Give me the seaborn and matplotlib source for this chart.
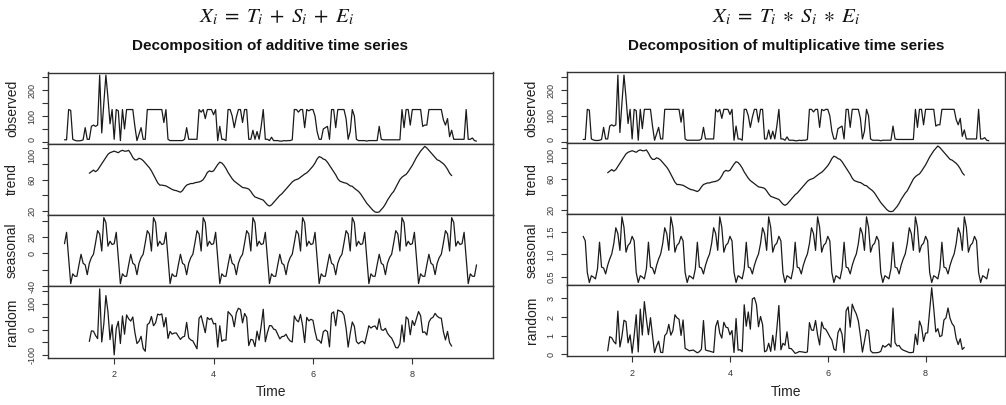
import numpy as np
import pandas as pd
import matplotlib
matplotlib.use("Agg")
import matplotlib.pyplot as plt
import seaborn as sns

# ---------------- data ----------------
FREQ = 24
START = 1.0

observed = [
    8, 8, 125, 122, 10, 6, 4, 4, 5, 8,
    55, 10, 10, 60, 65, 60, 65, 258, 35, 150,
    258, 170, 70, 125, 10, 125, 120, 5, 125, 50,
    125, 125, 125, 125, 60, 5, 30, 55, 10, 10,
    125, 125, 125, 125, 125, 125, 125, 125, 75, 125,
    10, 5, 5, 5, 5, 5, 5, 5, 10, 55,
    10, 10, 10, 10, 10, 125, 115, 125, 90, 125,
    125, 125, 105, 125, 5, 60, 10, 10, 5, 125,
    125, 100, 55, 95, 125, 125, 75, 125, 125, 10,
    10, 45, 10, 40, 10, 60, 125, 10, 10, 5,
    18, 5, 5, 5, 3, 3, 5, 4, 5, 5,
    8, 125, 125, 115, 125, 125, 55, 125, 120, 125,
    125, 100, 40, 10, 10, 50, 55, 60, 10, 125,
    125, 55, 125, 125, 125, 125, 90, 10, 40, 125,
    100, 10, 5, 5, 5, 5, 3, 5, 5, 5,
    5, 5, 60, 10, 8, 8, 8, 8, 8, 8,
    8, 8, 8, 125, 55, 125, 125, 65, 125, 125,
    125, 125, 125, 60, 65, 65, 125, 125, 125, 125,
    125, 125, 125, 85, 65, 90, 20, 45, 10, 10,
    10, 10, 10, 10, 125, 10, 10, 15, 5, 3,
]

TREND_START_INDEX = 12
trend_values = [
    68, 70, 72, 70, 72, 76, 80, 84, 88, 92,
    94, 95, 96, 95, 94, 96, 97, 96, 96, 97,
    93, 88, 85, 85, 87, 86, 84, 81, 78, 75,
    71, 66, 61, 56, 53, 53, 52.5, 52, 50.5, 49,
    47.5, 46.5, 46, 45, 44, 46, 50, 53, 54, 55,
    55, 56, 56.5, 57, 58, 60, 64, 69, 71, 70,
    71, 75, 79, 82, 81, 78, 74, 69, 65, 61,
    58, 56, 54, 52, 50, 49.5, 49, 48, 45, 41,
    38, 37, 36, 35, 34, 31, 28, 26.5, 28, 31,
    34, 37, 40, 42, 45, 48, 51, 54, 57, 59,
    60, 61, 63, 65, 67, 68.5, 71, 74, 77, 81,
    86, 89, 88, 86, 85, 82, 78, 74, 70, 66,
    61, 58, 57, 56, 55.5, 54, 52, 51.5, 49, 47,
    45, 42, 38, 34, 30, 27, 24, 21, 19, 18.5,
    19, 22, 25, 29, 34, 38, 42, 45, 50, 55,
    60, 63, 65, 66.5, 70, 74, 78, 83, 88, 92,
    96, 99, 102, 100, 97, 94, 91, 88, 85, 84,
    82, 80, 77, 73, 68, 65,
]

seasonal_additive_period = [
    12, 26, -6, -37, -25, -28, -28, -14, -1, -12, -14, -26,
    -12, -5, -1, 13, 28, 24, 3, 44, 38, 9, 15, 11,
]
seasonal_multiplicative_period = [
    1.40, 1.30, 0.60, 0.38, 0.53, 0.50, 0.46, 0.68, 1.27, 0.72, 0.70, 0.57,
    0.76, 0.90, 1.01, 1.24, 1.59, 1.46, 1.09, 1.83, 1.60, 1.05, 1.20, 1.25,
]

panel_names = ["observed", "trend", "seasonal", "random"]
titles = ["Decomposition of additive time series",
          "Decomposition of multiplicative time series"]
formulas = [r"$X_i\;=\;T_i\;+\;S_i\;+\;E_i$",
            r"$X_i\;=\;T_i\;\ast\;S_i\;\ast\;E_i$"]
x_tick_values = [2, 4, 6, 8]

# ---------------- derived components ----------------
n = len(observed)
time = START + np.arange(n) / FREQ
obs = np.array(observed, dtype=float)
trend = np.full(n, np.nan)
trend[TREND_START_INDEX:TREND_START_INDEX + len(trend_values)] = trend_values
seas_add = np.tile(seasonal_additive_period, n // FREQ + 1)[:n].astype(float)
seas_mul = np.tile(seasonal_multiplicative_period, n // FREQ + 1)[:n].astype(float)
rand_add = obs - trend - seas_add
rand_mul = obs / (trend * seas_mul)

components = [
    [obs, trend, seas_add, rand_add],
    [obs, trend, seas_mul, rand_mul],
]
yticks = [
    [([0, 50, 100, 150, 200, 250], ["0", "", "100", "", "200", ""]),
     ([20, 40, 60, 80, 100], ["20", "", "60", "", "100"]),
     ([-40, -20, 0, 20, 40], ["-40", "", "0", "20", ""]),
     ([-100, -50, 0, 50, 100, 150], ["-100", "", "0", "", "100", ""])],
    [([0, 50, 100, 150, 200, 250], ["0", "", "100", "", "200", ""]),
     ([20, 40, 60, 80, 100], ["20", "", "60", "", "100"]),
     ([0.5, 1.0, 1.5], ["0.5", "1.0", "1.5"]),
     ([0, 1, 2, 3], ["0", "1", "2", "3"])],
]

# ---------------- styling ----------------
sns.set_style("white")
plt.rcParams["font.family"] = ["Liberation Sans", "DejaVu Sans"]
plt.rcParams["mathtext.fontset"] = "stix"

W, H = 1006, 405
fig = plt.figure(figsize=(W / 100, H / 100), dpi=100)
fig.patch.set_facecolor("white")

LINE = "#1a1a1a"
EDGE = "#333333"

layouts = [
    dict(x0=48, x1=493, top=72.5, bottom=357.5, cx=270.5, fx=277),
    dict(x0=567, x1=1005, top=72.5, bottom=356.0, cx=786, fx=786),
]

span = time[-1] - time[0]
xlim = (time[0] - 0.04 * span, time[-1] + 0.04 * span)

for side in range(2):
    L = layouts[side]
    ph = (L["bottom"] - L["top"]) / 4.0
    for k in range(4):
        top_px = L["top"] + k * ph
        ax = fig.add_axes([L["x0"] / W, 1 - (top_px + ph) / H,
                           (L["x1"] - L["x0"]) / W, ph / H])
        vals = components[side][k]
        df = pd.DataFrame({"Time": time, "value": vals})
        sns.lineplot(data=df, x="Time", y="value", ax=ax, color=LINE,
                     linewidth=0.9, estimator=None, sort=False)
        ax.set_xlim(*xlim)
        lo, hi = np.nanmin(vals), np.nanmax(vals)
        pad = 0.04 * (hi - lo)
        ax.set_ylim(lo - pad, hi + pad)
        for sp in ax.spines.values():
            sp.set_visible(True)
            sp.set_color(EDGE)
            sp.set_linewidth(1.0)
        tv, tl = yticks[side][k]
        ax.set_yticks(tv)
        ax.set_yticklabels(tl, rotation=90, va="center", fontsize=6.5,
                           color="#333333")
        # keep the bottom label of the top panel and the top label of the
        # next panel from running into each other
        labs = ax.get_yticklabels()
        if k == 0:
            labs[0].set_va("bottom")
        if k == 1:
            labs[-1].set_va("top")
        ax.tick_params(axis="y", left=True, length=4, width=0.8, pad=4.5,
                       color=EDGE)
        ax.set_ylabel(panel_names[k], fontsize=10, va="center",
                      color="#222222")
        ax.yaxis.set_label_coords(-0.081, 0.5)
        if k < 3:
            ax.tick_params(axis="x", bottom=False, labelbottom=False)
            ax.set_xlabel("")
        else:
            ax.set_xticks(x_tick_values)
            ax.set_xticklabels([str(v) for v in x_tick_values], fontsize=6.5,
                               color="#333333")
            ax.tick_params(axis="x", bottom=True, length=4, width=0.8,
                           pad=5, color=EDGE)
            ax.set_xlabel("Time", fontsize=10, va="center", color="#222222")
            ax.xaxis.set_label_coords(0.5, -(392.0 - L["bottom"]) / ph)

    fig.text(L["cx"] / W, 1 - 46 / H, titles[side], ha="center",
             va="center", fontsize=11, fontweight="bold", color="#111111")
    fig.text(L["fx"] / W, 1 - 17 / H, formulas[side], ha="center",
             va="center", fontsize=15, color="#111111")

fig.savefig("out.png", dpi=100, facecolor="white")
